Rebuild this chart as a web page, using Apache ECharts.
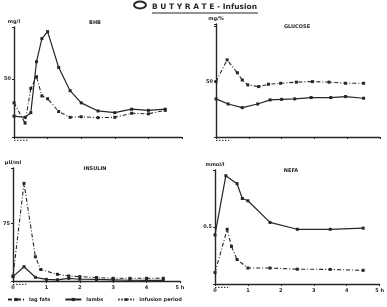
<!DOCTYPE html>
<html>
<head>
<meta charset="utf-8">
<script src="https://cdn.jsdelivr.net/npm/echarts@6/dist/echarts.min.js"></script>
<style>
  html, body { margin: 0; padding: 0; background: #fff; }
  #chart { width: 387px; height: 307px; }
</style>
</head>
<body>
<div id="chart"></div>
<script>
  // hours after start of infusion
  var bhbSolidT = [0, 0.33, 0.5, 0.67, 0.83, 1, 1.33, 1.67, 2, 2.5, 3, 3.5, 4, 4.5];
  var bhbSolid = [18, 17, 21, 65, 85, 91, 60, 40, 29.5, 22.5, 21, 24, 23, 24];
  var bhbDashT = [0, 0.33, 0.5, 0.67, 0.83, 1, 1.33, 1.67, 2, 2.5, 3, 3.5, 4, 4.5];
  var bhbDash = [29.5, 12, 42, 52, 35.5, 33, 22, 17, 17.5, 16.7, 17, 20.5, 20, 23];

  var gluSolidT = [0, 0.37, 0.8, 1.27, 1.65, 2, 2.4, 2.9, 3.5, 3.95, 4.5];
  var gluSolid = [34.4, 29.8, 26.5, 29.8, 33.5, 34, 34.4, 35.6, 35.6, 36.5, 35];
  var gluDashT = [0, 0.34, 0.65, 0.8, 0.97, 1.3, 1.6, 1.97, 2.45, 2.94, 3.45, 3.95, 4.5];
  var gluDash = [50, 69.6, 58, 51.5, 47, 45.5, 47.6, 48.5, 49.5, 50, 49.5, 48.5, 48.5];

  var insSolidT = [0, 0.33, 0.67, 1, 1.33, 1.67, 2, 2.5, 3, 3.5, 4, 4.5];
  var insSolid = [5.7, 18.6, 4.8, 2.1, 1.5, 3.5, 2.3, 2, 1.5, 1, 0.8, 0.8];
  var insDashT = [0, 0.33, 0.67, 0.83, 1.33, 1.67, 2, 2.5, 3, 3.5, 4, 4.5];
  var insDash = [6.5, 127, 31.5, 15, 8.7, 6.5, 5.7, 4.5, 3.5, 3.5, 3.5, 3.5];

  var nefaSolidT = [0, 0.33, 0.67, 0.83, 1, 1.67, 2.5, 3.5, 4.5];
  var nefaSolid = [0.43, 0.95, 0.88, 0.75, 0.73, 0.54, 0.48, 0.48, 0.49];
  var nefaDashT = [0, 0.37, 0.5, 0.67, 1, 1.67, 2.5, 3.5, 4.5];
  var nefaDash = [0.1, 0.48, 0.33, 0.215, 0.14, 0.14, 0.13, 0.128, 0.12];

  var infusion = [0, 0.4];

  var panelTitles = ['BHB', 'GLUCOSE', 'INSULIN', 'NEFA'];
  var unitNames = ['mg/l', 'mg/%', 'µU/ml', 'mmol/l'];
  var yTicks = [50, 50, 75, 0.5];
  var yMax = [95, 102, 147, 1.0];
  var xTicks = [0, 1, 2, 3, 4, 5];

  var ink = '#262626';
  var pairs = function (t, v) { return t.map(function (x, i) { return [x, v[i]]; }); };

  var grids = [
    { left: 14, top: 27, width: 168, height: 110 },
    { left: 216, top: 24, width: 164, height: 113 },
    { left: 13, top: 168, width: 167, height: 113 },
    { left: 215, top: 170, width: 167, height: 114 }
  ];
  var titlePos = [[90, 15], [292, 19], [90, 161], [286, 163]];

  var xAxes = [], yAxes = [], series = [], titles = [];
  var panels = [
    [bhbSolidT, bhbSolid, bhbDashT, bhbDash],
    [gluSolidT, gluSolid, gluDashT, gluDash],
    [insSolidT, insSolid, insDashT, insDash],
    [nefaSolidT, nefaSolid, nefaDashT, nefaDash]
  ];

  panels.forEach(function (p, i) {
    var bottom = i >= 2;
    xAxes.push({
      type: 'value', gridIndex: i, min: xTicks[0], max: xTicks[xTicks.length - 1], interval: 1,
      axisLine: { lineStyle: { color: ink, width: 1.4 } },
      axisTick: { show: true, length: 2, lineStyle: { color: ink } },
      splitLine: { show: false },
      axisLabel: {
        show: bottom, fontSize: 5, color: ink, margin: 4, fontWeight: 'bold',
        formatter: function (v) { return v === 5 ? '5 h' : String(v); }
      }
    });
    yAxes.push({
      type: 'value', gridIndex: i, min: 0, max: yMax[i], interval: yTicks[i],
      name: unitNames[i], nameLocation: 'end', nameGap: 3,
      nameTextStyle: { fontSize: 5, color: ink, fontWeight: 'bold', align: 'center' },
      axisLine: { show: true, lineStyle: { color: ink, width: 1.4 } },
      axisTick: { show: true, length: 2, lineStyle: { color: ink } },
      splitLine: { show: false },
      axisLabel: {
        fontSize: 5, color: ink, margin: 3, fontWeight: 'bold',
        formatter: function (v) { return v === yTicks[i] ? String(v) : ''; }
      }
    });
    series.push({
      name: 'lambs', type: 'line', xAxisIndex: i, yAxisIndex: i,
      data: pairs(p[0], p[1]), symbol: 'rect', symbolSize: 3,
      itemStyle: { color: ink }, lineStyle: { color: ink, width: 1.2 }
    });
    series.push({
      name: 'lag fats', type: 'line', xAxisIndex: i, yAxisIndex: i,
      data: pairs(p[2], p[3]), symbol: 'rect', symbolSize: 3,
      itemStyle: { color: ink }, lineStyle: { color: ink, width: 1.1, type: [4, 2, 1, 2] }
    });
    var below = -yMax[i] * 0.03;
    series.push({
      name: 'infusion period', type: 'line', xAxisIndex: i, yAxisIndex: i, clip: false,
      data: [[infusion[0], below], [infusion[1], below]], symbol: 'none',
      itemStyle: { color: ink }, lineStyle: { color: ink, width: 1, type: [1.5, 1.5] }
    });
    titles.push({
      text: panelTitles[i], left: titlePos[i][0], top: titlePos[i][1], textAlign: 'center',
      textStyle: { fontSize: 5, fontWeight: 'bold', color: ink }
    });
  });

  var chart = echarts.init(document.getElementById('chart'));
  chart.setOption({
    animation: false,
    backgroundColor: '#fff',
    textStyle: { fontFamily: 'DejaVu Sans' },
    title: titles,
    grid: grids,
    xAxis: xAxes,
    yAxis: yAxes,
    series: series,
    legend: {
      left: 2, bottom: 0, itemGap: 14, itemWidth: 16, itemHeight: 4,
      data: ['lag fats', 'lambs', 'infusion period'],
      textStyle: { fontSize: 5, color: ink, fontWeight: 'bold' }
    },
    graphic: [
      { type: 'ellipse', shape: { cx: 140, cy: 5, rx: 6, ry: 3.5 }, style: { fill: 'none', stroke: ink, lineWidth: 2 } },
      { type: 'text', left: 152, top: 3, style: { text: 'B U T Y R A T E - Infusion', font: 'bold 7.5px DejaVu Sans', fill: ink } },
      { type: 'line', shape: { x1: 152, y1: 13, x2: 258, y2: 13 }, style: { stroke: ink, lineWidth: 1 } }
    ]
  });
</script>
</body>
</html>
